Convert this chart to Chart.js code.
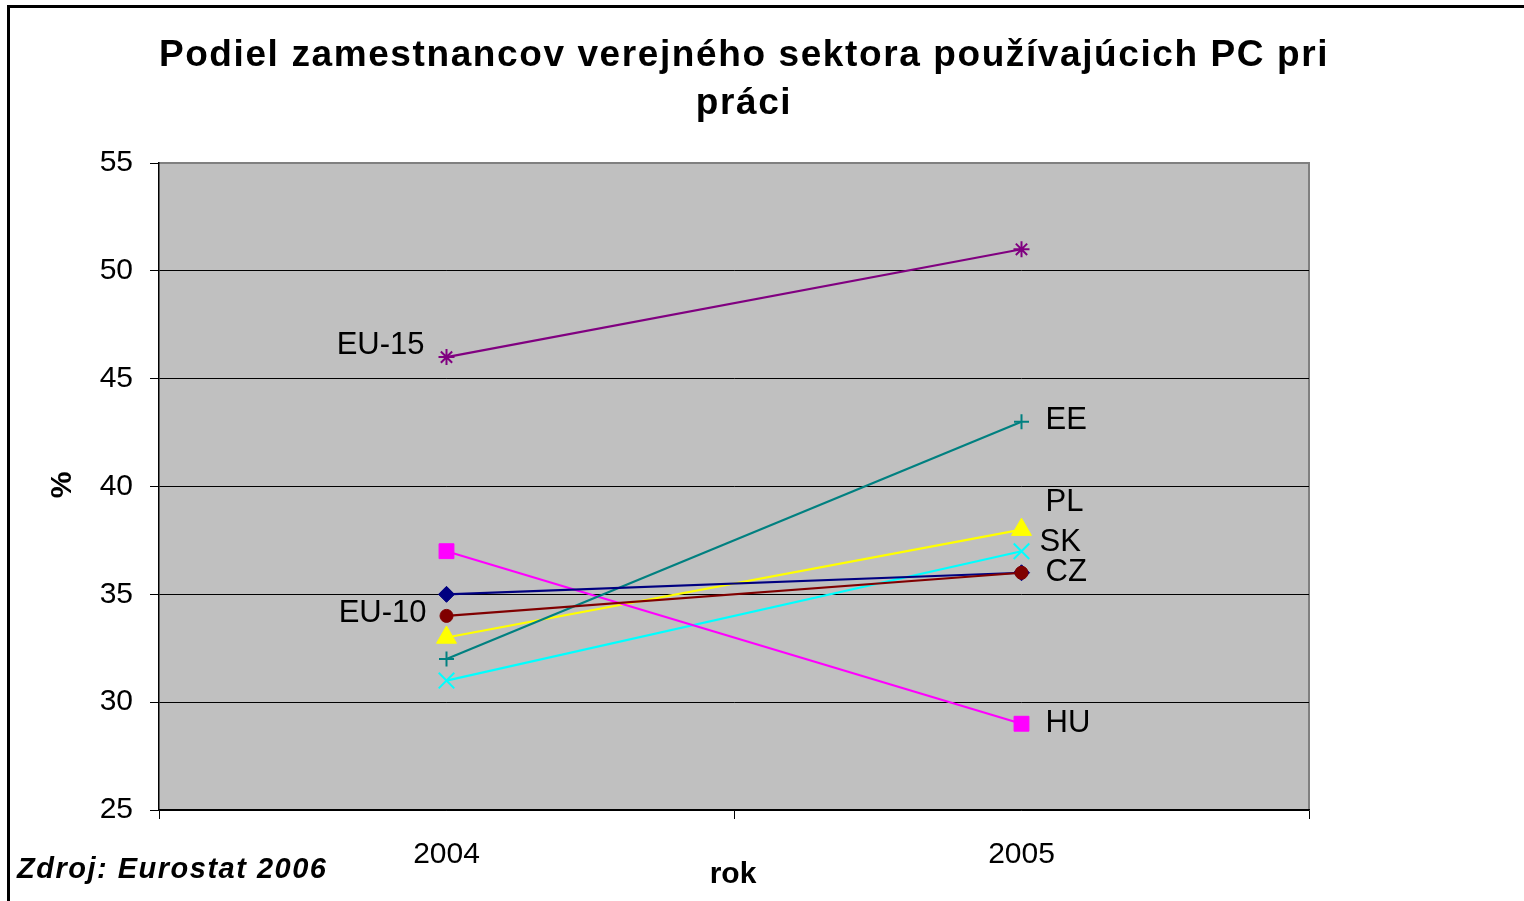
<!DOCTYPE html>
<html>
<head>
<meta charset="utf-8">
<script src="https://cdn.jsdelivr.net/npm/chart.js@4.4.1/dist/chart.umd.min.js"></script>
<style>
html,body{margin:0;padding:0;background:#fff;}
canvas{display:block;}
</style>
</head>
<body>
<canvas id="c" width="1524" height="901"></canvas>
<script>
const categories = ['2004', '2005'];
const seriesNames = ['EU-15', 'EU-10', 'CZ', 'EE', 'HU', 'PL', 'SK'];
const eu15 = [46, 51];
const eu10 = [34, 36];
const cz = [35, 36];
const ee = [32, 43];
const hu = [37, 29];
const pl = [33, 38];
const sk = [31, 37];
const yTicks = [25, 30, 35, 40, 45, 50, 55];
const titleLines = ['Podiel zamestnancov verejného sektora používajúcich PC pri', 'práci'];
const xTitle = 'rok';
const yTitle = '%';
const sourceText = 'Zdroj: Eurostat 2006';

const FONT = '"Liberation Sans", Arial, sans-serif';

function ds(label, data, color, style, radius, bw) {
  return {
    label, data,
    borderColor: color, backgroundColor: color,
    pointStyle: style, pointRadius: radius, pointHoverRadius: radius,
    pointBorderColor: color, pointBackgroundColor: color,
    pointBorderWidth: bw, borderWidth: 2.2, tension: 0, fill: false
  };
}

const datasets = [
  ds(seriesNames[0], eu15, '#800080', 'star', 8, 2),
  ds(seriesNames[1], eu10, '#800000', 'circle', 6.5, 1),
  ds(seriesNames[2], cz, '#000080', 'rectRot', 8, 1),
  ds(seriesNames[3], ee, '#008080', 'cross', 7.5, 2),
  ds(seriesNames[4], hu, '#FF00FF', 'rect', 10.5, 1),
  ds(seriesNames[5], pl, '#FFFF00', 'triangle', 11.5, 1),
  ds(seriesNames[6], sk, '#00FFFF', 'crossRot', 11, 2)
];

// label placement: dataset index, point index, pixel offsets, alignment
const seriesLabels = [
  {ds: 0, i: 0, dx: -22, dy: -12, align: 'right'},
  {ds: 1, i: 0, dx: -20, dy: -2, align: 'right'},
  {ds: 3, i: 1, dx: 24, dy: -1, align: 'left'},
  {ds: 5, i: 1, dx: 24, dy: -27, align: 'left'},
  {ds: 6, i: 1, dx: 18, dy: -9, align: 'left'},
  {ds: 2, i: 1, dx: 24, dy: 0, align: 'left'},
  {ds: 4, i: 1, dx: 24, dy: 0, align: 'left'}
];

const decor = {
  id: 'decor',
  beforeDraw(chart) {
    const ctx = chart.ctx, a = chart.chartArea;
    ctx.save();
    ctx.fillStyle = '#fff';
    ctx.fillRect(0, 0, chart.width, chart.height);
    ctx.fillStyle = '#C0C0C0';
    ctx.fillRect(a.left, a.top, a.right - a.left, a.bottom - a.top);
    ctx.strokeStyle = '#808080';
    ctx.lineWidth = 2;
    ctx.beginPath();
    ctx.moveTo(a.left, a.top);
    ctx.lineTo(a.right, a.top);
    ctx.lineTo(a.right, a.bottom);
    ctx.stroke();
    ctx.restore();
  },
  afterDatasetsDraw(chart) {
    const ctx = chart.ctx;
    ctx.save();
    ctx.fillStyle = '#000';
    ctx.font = '31px ' + FONT;
    ctx.textBaseline = 'middle';
    seriesLabels.forEach(l => {
      const p = chart.getDatasetMeta(l.ds).data[l.i];
      ctx.textAlign = l.align;
      ctx.fillText(chart.data.datasets[l.ds].label, p.x + l.dx, p.y + l.dy);
    });
    ctx.restore();
  },
  afterDraw(chart) {
    const ctx = chart.ctx, a = chart.chartArea;
    ctx.save();
    ctx.fillStyle = '#000';
    ctx.textBaseline = 'middle';
    ctx.textAlign = 'center';
    ctx.font = 'bold 37px ' + FONT;
    ctx.letterSpacing = '1.6px';
    ctx.fillText(titleLines[0], 744, 56);
    ctx.fillText(titleLines[1], 744, 104);
    ctx.letterSpacing = '0px';
    ctx.font = 'bold 30px ' + FONT;
    ctx.fillText(xTitle, 733, 875);
    ctx.save();
    ctx.translate(63, 485);
    ctx.rotate(-Math.PI / 2);
    ctx.font = 'bold 30px ' + FONT;
    ctx.fillText(yTitle, 0, 0);
    ctx.restore();
    ctx.textAlign = 'left';
    ctx.font = 'italic bold 29px ' + FONT;
    ctx.letterSpacing = '1.5px';
    ctx.fillText(sourceText, 17, 870);
    ctx.letterSpacing = '0px';
    ctx.strokeStyle = '#000';
    ctx.lineWidth = 3;
    ctx.beginPath();
    ctx.moveTo(8.5, 910);
    ctx.lineTo(8.5, 6.5);
    ctx.lineTo(1530, 6.5);
    ctx.stroke();
    ctx.restore();
  }
};

new Chart(document.getElementById('c'), {
  type: 'line',
  data: { labels: categories, datasets },
  options: {
    responsive: false,
    animation: false,
    events: [],
    layout: { padding: { left: 0, top: 163, right: 215, bottom: 0 } },
    plugins: { legend: { display: false }, title: { display: false }, tooltip: { enabled: false } },
    scales: {
      x: {
        type: 'category',
        offset: true,
        grid: { offset: true, drawOnChartArea: false, tickLength: 9, color: '#000', tickColor: '#000' },
        border: { color: '#000', width: 1.5 },
        ticks: { color: '#000', font: { family: FONT, size: 30 }, padding: 18, maxRotation: 0 },
        afterFit(s) { s.height = 91; }
      },
      y: {
        min: 25, max: 55,
        afterBuildTicks(s) { s.ticks = yTicks.map(v => ({ value: v })); },
        grid: {
          color: c => (c.tick && c.tick.value === 55) ? 'rgba(0,0,0,0)' : '#000',
          tickColor: '#000', tickLength: 9, lineWidth: 1
        },
        border: { color: '#000', width: 1.5 },
        ticks: { color: '#000', font: { family: FONT, size: 30 }, padding: 17 },
        afterFit(s) { s.width = 159; }
      }
    }
  },
  plugins: [decor]
});
</script>
</body>
</html>
